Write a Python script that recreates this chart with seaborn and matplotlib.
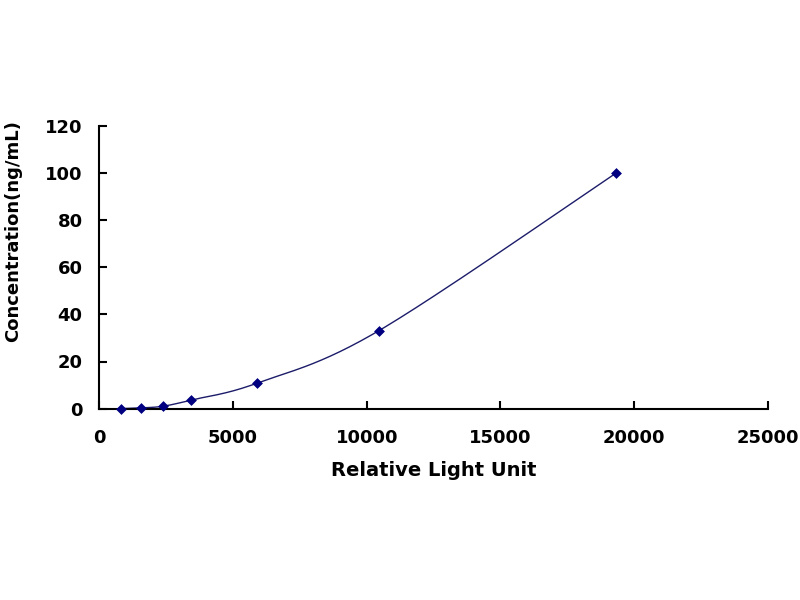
import numpy as np
import pandas as pd
import seaborn as sns
import matplotlib
matplotlib.use("Agg")
import matplotlib.pyplot as plt

# data
rlu = [805, 1554, 2378, 3427, 5899, 10442, 19318]
conc = [0.0, 0.3, 1.0, 3.6, 10.8, 33.0, 100.0]
x_ticks = [0, 5000, 10000, 15000, 20000, 25000]
y_ticks = [0, 20, 40, 60, 80, 100, 120]

NAVY = "#000080"


def smooth_line(xs, ys, steps=30):
    # Catmull-Rom style smoothing, like the spreadsheet "smoothed line" option
    pts = np.column_stack([xs, ys]).astype(float)
    pts = np.vstack([pts[0], pts, pts[-1]])
    out = []
    for i in range(1, len(pts) - 2):
        p0, p1, p2, p3 = pts[i - 1], pts[i], pts[i + 1], pts[i + 2]
        t = np.linspace(0, 1, steps)[:, None]
        seg = 0.5 * ((2 * p1) + (-p0 + p2) * t
                     + (2 * p0 - 5 * p1 + 4 * p2 - p3) * t ** 2
                     + (-p0 + 3 * p1 - 3 * p2 + p3) * t ** 3)
        out.append(seg)
    out = np.vstack(out)
    return out[:, 0], out[:, 1]


sns.set_style("ticks")
plt.rcParams["font.family"] = ["DejaVu Sans"]
plt.rcParams["font.weight"] = "bold"
plt.rcParams["text.color"] = "black"
plt.rcParams["axes.labelcolor"] = "black"
plt.rcParams["xtick.color"] = "black"
plt.rcParams["ytick.color"] = "black"

fig = plt.figure(figsize=(8, 6), dpi=100)
ax = fig.add_axes([0.124, 0.319, 0.836, 0.471])

sx, sy = smooth_line(rlu, conc)
ax.plot(sx, sy, color="#1c1c6a", lw=1.0, zorder=2)

df = pd.DataFrame({"rlu": rlu, "conc": conc})
sns.scatterplot(data=df, x="rlu", y="conc", ax=ax, marker="D", s=25,
                color=NAVY, edgecolor=NAVY, linewidth=0.5, zorder=3,
                clip_on=False)

ax.set_xlim(0, 25000)
ax.set_ylim(0, 120)
ax.set_xticks(x_ticks)
ax.set_yticks(y_ticks)
ax.set_xticklabels([str(v) for v in x_ticks], fontsize=13, fontweight="bold")
ax.set_yticklabels([str(v) for v in y_ticks], fontsize=13, fontweight="bold")
ax.tick_params(axis="x", direction="in", length=6, width=1.5, pad=15)
ax.tick_params(axis="y", direction="in", length=6, width=1.5, pad=12)

for side in ["top", "right"]:
    ax.spines[side].set_visible(False)
for side in ["left", "bottom"]:
    ax.spines[side].set_linewidth(1.5)
    ax.spines[side].set_color("black")

ax.set_xlabel("Relative Light Unit", fontsize=14, fontweight="bold", labelpad=10)
ax.set_ylabel("Concentration(ng/mL)", fontsize=13, fontweight="bold")
ax.yaxis.set_label_coords(-0.1155, 0.628)

fig.savefig("out.png", dpi=100)
